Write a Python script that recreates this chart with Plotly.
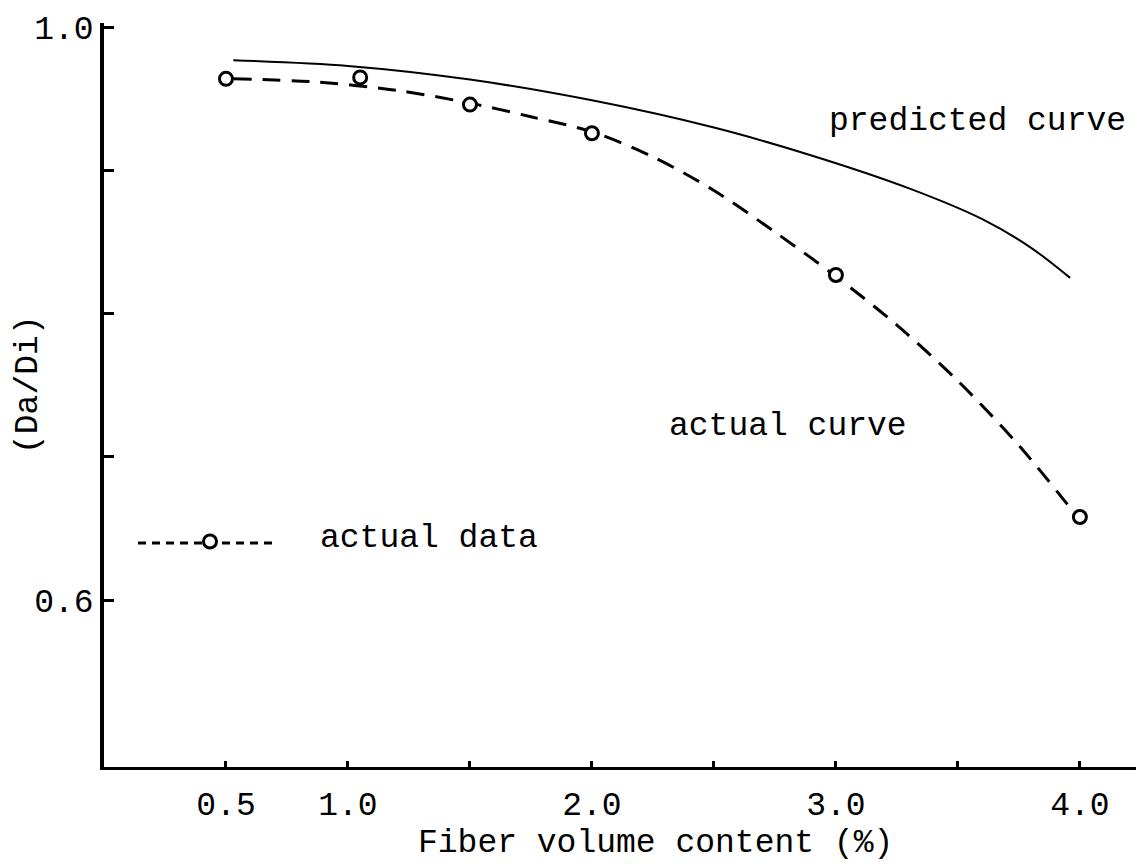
import plotly.graph_objects as go

# ---- data ----
# measured points ("actual data")
x_actual = [0.5, 1.05, 1.5, 2.0, 3.0, 4.0]
y_actual = [0.964, 0.965, 0.946, 0.926, 0.827, 0.658]

# dashed "actual curve" drawn through the measured points
x_actual_curve = [0.53, 0.85, 1.2, 1.53, 1.75, 2.0, 2.25, 2.5, 2.75, 3.0, 3.25, 3.5, 3.75, 3.99]
y_actual_curve = [0.964, 0.962, 0.956, 0.946, 0.9375, 0.927, 0.9095, 0.886, 0.857, 0.826, 0.792, 0.753, 0.708, 0.658]

# solid "predicted curve"
x_pred = [0.53, 1.0, 1.5, 2.0, 2.5, 2.9, 3.3, 3.6, 3.8, 3.96]
y_pred = [0.977, 0.973, 0.9635, 0.949, 0.930, 0.9105, 0.8875, 0.866, 0.846, 0.825]

x_tickvals = [0.5, 1.0, 1.5, 2.0, 2.5, 3.0, 3.5, 4.0]
x_ticktext = ["0.5", "1.0", "", "2.0", "", "3.0", "", "4.0"]
y_tickvals = [0.6, 0.7, 0.8, 0.9, 1.0]
y_ticktext = ["0.6", "", "", "", "1.0"]

FONT = "Courier New, Courier, Liberation Mono, monospace"
FS = 33

W, H = 1136, 864
ML, MR, MT, MB = 104, 0, 23, 97
PW, PH = W - ML - MR, H - MT - MB


def px2paper_x(px):
    return (px - ML) / PW


def px2paper_y(py):
    return (H - MB - py) / PH


fig = go.Figure()

fig.add_trace(go.Scatter(
    x=x_pred, y=y_pred, mode="lines", name="predicted curve",
    line=dict(color="black", width=2, shape="spline", smoothing=0.9),
    showlegend=False,
))

fig.add_trace(go.Scatter(
    x=x_actual_curve, y=y_actual_curve, mode="lines", name="actual curve",
    line=dict(color="black", width=3, dash="18px,11px", shape="spline", smoothing=0.9),
    showlegend=False,
))

fig.add_trace(go.Scatter(
    x=x_actual, y=y_actual, mode="markers", name="actual data",
    marker=dict(symbol="circle", size=13, color="white",
                line=dict(color="black", width=3)),
    showlegend=False,
))

annotations = [
    dict(text="predicted curve", x=3.582, y=0.934, xref="x", yref="y",
         showarrow=False, xanchor="center", yanchor="middle"),
    dict(text="actual curve", x=2.803, y=0.721, xref="x", yref="y",
         showarrow=False, xanchor="center", yanchor="middle"),
    dict(text="Fiber volume content (%)", x=px2paper_x(655), y=px2paper_y(864),
         xref="paper", yref="paper", showarrow=False,
         xanchor="center", yanchor="bottom"),
    dict(text="(Da/Di)", x=px2paper_x(28), y=px2paper_y(385),
         xref="paper", yref="paper", showarrow=False, textangle=-90,
         xanchor="center", yanchor="middle"),
    dict(text="actual data", x=px2paper_x(318), y=px2paper_y(538),
         xref="paper", yref="paper", showarrow=False,
         xanchor="left", yanchor="middle"),
]
for a in annotations:
    a["font"] = dict(family=FONT, size=FS, color="black")

# legend key drawn like the original: dashed line with an open circle
shapes = [
    dict(type="line", xref="paper", yref="paper",
         x0=px2paper_x(138), x1=px2paper_x(277),
         y0=px2paper_y(543), y1=px2paper_y(543),
         line=dict(color="black", width=3, dash="8px,6px")),
    dict(type="circle", xref="paper", yref="paper",
         x0=px2paper_x(203.5), x1=px2paper_x(216.5),
         y0=px2paper_y(548), y1=px2paper_y(535),
         fillcolor="white", line=dict(color="black", width=3)),
]

fig.update_layout(
    width=W, height=H,
    margin=dict(l=ML, r=MR, t=MT, b=MB, autoexpand=False),
    paper_bgcolor="white", plot_bgcolor="white",
    font=dict(family=FONT, size=FS, color="black"),
    annotations=annotations,
    shapes=shapes,
    showlegend=False,
)

fig.update_xaxes(
    range=[0, 4.23], tickvals=x_tickvals, ticktext=x_ticktext,
    ticks="inside", ticklen=6, tickwidth=3, tickcolor="black",
    showline=True, linewidth=3, linecolor="black",
    showgrid=False, zeroline=False, ticklabelstandoff=5,
    tickfont=dict(family=FONT, size=FS, color="black"),
)
fig.update_yaxes(
    range=[0.4834, 1.003], tickvals=y_tickvals, ticktext=y_ticktext,
    ticks="inside", ticklen=10, tickwidth=2.5, tickcolor="black",
    showline=True, linewidth=3.5, linecolor="black",
    showgrid=False, zeroline=False, ticklabelstandoff=0,
    tickfont=dict(family=FONT, size=FS, color="black"),
)

fig.write_html("out.html")
